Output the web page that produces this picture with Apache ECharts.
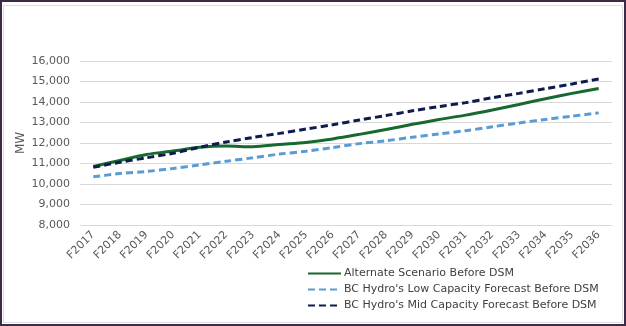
<!DOCTYPE html>
<html>
<head>
<meta charset="utf-8">
<script src="https://cdn.jsdelivr.net/npm/echarts@6/dist/echarts.min.js"></script>
<style>
html,body{margin:0;padding:0;background:#fff;}
#c{width:626px;height:326px;}
</style>
</head>
<body>
<div id="c"></div>
<script>
const categories = ['F2017','F2018','F2019','F2020','F2021','F2022','F2023','F2024','F2025','F2026','F2027','F2028','F2029','F2030','F2031','F2032','F2033','F2034','F2035','F2036'];
const alternate = [10850,11150,11440,11610,11790,11850,11820,11930,12030,12200,12420,12660,12910,13150,13360,13610,13880,14160,14420,14660];
const lowForecast = [10350,10510,10610,10760,10930,11110,11280,11460,11600,11780,11970,12110,12280,12440,12600,12790,12980,13150,13310,13470];
const midForecast = [10820,11060,11280,11500,11790,12050,12270,12470,12680,12890,13120,13340,13570,13780,13970,14210,14420,14650,14880,15120];
const seriesNames = ['Alternate Scenario Before DSM',"BC Hydro's Low Capacity Forecast Before DSM","BC Hydro's Mid Capacity Forecast Before DSM"];
const yAxisTitle = 'MW';

const chart = echarts.init(document.getElementById('c'), null, {renderer:'canvas'});
const font = 'DejaVu Sans, Verdana, sans-serif';
chart.setOption({
  animation:false,
  textStyle:{fontFamily:font},
  graphic:[
    {type:'rect',shape:{x:1,y:1,width:624,height:324},style:{fill:'none',stroke:'#3b2a48',lineWidth:2},silent:true},
    {type:'rect',shape:{x:3.5,y:5.5,width:619,height:317},style:{fill:'none',stroke:'#dcdcdc',lineWidth:1},silent:true},
    {type:'text',x:21,y:143,rotation:Math.PI/2,
      style:{text:yAxisTitle,fill:'#595959',font:'12px DejaVu Sans, Verdana, sans-serif',align:'center',verticalAlign:'middle'},silent:true}
  ],
  grid:{left:80,right:14,top:61,bottom:101,containLabel:false},
  legend:{
    orient:'vertical',left:302,top:263,itemWidth:33,itemHeight:10,itemGap:5,
    itemStyle:{opacity:0},
    textStyle:{fontFamily:font,fontSize:11,color:'#404040',padding:[0,0,0,-2]},
    data:seriesNames
  },
  xAxis:{
    type:'category',data:categories,boundaryGap:true,
    axisTick:{show:false},
    axisLine:{lineStyle:{color:'#d9d9d9',width:1}},
    axisLabel:{rotate:45,margin:8,color:'#595959',fontSize:11,fontFamily:font,interval:0}
  },
  yAxis:{
    type:'value',min:8000,max:16000,interval:1000,
    axisLine:{show:false},axisTick:{show:false},
    splitLine:{lineStyle:{color:'#d9d9d9',width:1}},
    axisLabel:{margin:10,color:'#595959',fontSize:11,fontFamily:font,
      formatter:v=>v.toLocaleString('en-US')}
  },
  series:[
    {name:seriesNames[0],type:'line',data:alternate,symbol:'none',smooth:0.3,
      lineStyle:{color:'#17692f',width:3,type:'solid'},itemStyle:{color:'#17692f'},z:3},
    {name:seriesNames[1],type:'line',data:lowForecast,symbol:'none',smooth:0.3,
      lineStyle:{color:'#5b9bd5',width:3,type:[7,4]},itemStyle:{color:'#5b9bd5'},z:2},
    {name:seriesNames[2],type:'line',data:midForecast,symbol:'none',smooth:0.3,
      lineStyle:{color:'#0d1b4f',width:3,type:[7,4]},itemStyle:{color:'#0d1b4f'},z:4}
  ]
});
</script>
</body>
</html>
